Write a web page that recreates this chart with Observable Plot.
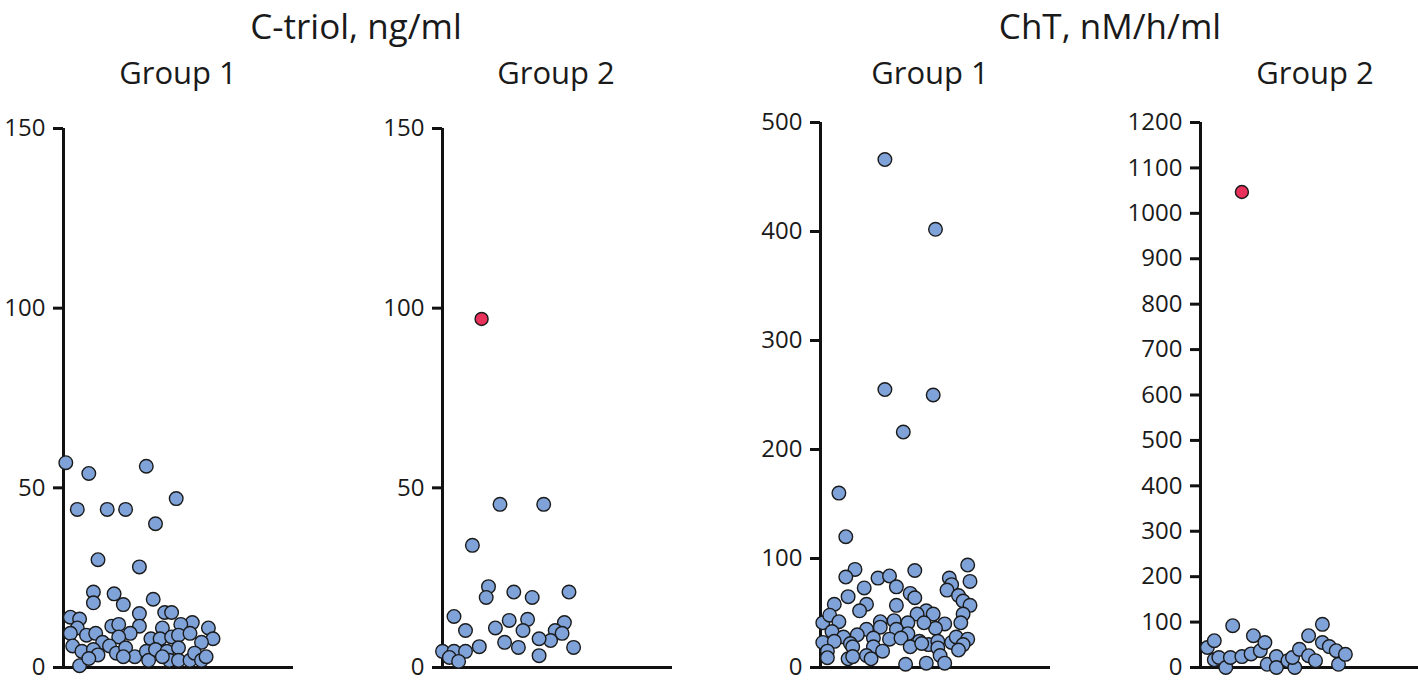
<!DOCTYPE html>
<html>
<head>
<meta charset="utf-8">
<script src="https://cdn.jsdelivr.net/npm/d3@7"></script>
<script src="https://cdn.jsdelivr.net/npm/@observablehq/plot@0.6"></script>
<style>
  html, body { margin: 0; padding: 0; background: #fff; overflow: hidden; }
  #root { position: relative; width: 1418px; height: 680px; font-family: "Open Sans", sans-serif; color: #1a1a1a; }
  .ttl { position: absolute; text-align: center; white-space: nowrap; line-height: normal; }
  .panel { position: absolute; top: 100px; }
</style>
</head>
<body>
<div id="root"></div>
<script>
// ---------------- data ----------------
const measures = ["C-triol, ng/ml", "ChT, nM/h/ml"];
const groups = ["Group 1", "Group 2"];

const triolTicks = [0, 50, 100, 150];
const chtG1Ticks = [0, 100, 200, 300, 400, 500];
const chtG2Ticks = [0, 100, 200, 300, 400, 500, 600, 700, 800, 900, 1000, 1100, 1200];

// C-triol, Group 1
const triolG1Values = [57,54,56,44,44,44,47,40,30,28,21,18,20.5,17.5,19,
  14,13.5,15,15.3,15.3,12.5,11,12,11.5,12,11.5,11,11,
  9.5,9,9.5,9.5,8.5,8,8,8.5,9,9.5,8,7,7,
  6,4.5,5,3.5,6,4,5.5,3,3,4.5,2,5,4.5,2,5.5,2,2,4,2,3,0.5,2.5,3];
const triolG1Jitter = [0.01,0.11,0.36,0.06,0.19,0.27,0.49,0.40,0.15,0.33,0.13,0.13,0.22,0.26,0.39,
  0.03,0.07,0.33,0.44,0.47,0.56,0.63,0.51,0.21,0.24,0.33,0.43,0.06,
  0.03,0.10,0.14,0.29,0.24,0.38,0.42,0.47,0.50,0.55,0.65,0.60,0.17,
  0.04,0.08,0.13,0.15,0.20,0.23,0.27,0.31,0.26,0.36,0.37,0.40,0.45,0.46,0.50,0.50,0.55,0.57,0.60,0.62,0.07,0.11,0.43];

// C-triol, Group 2
const triolG2Values = [45.4,45.4,34,22.5,19.5,21,19.5,21,14.2,10.3,11,13.1,13.4,10.3,12.5,10.3,9.5,
  7.5,8,7,5.6,5.8,5.6,3.3,4.5,4.5,4.5,2.8,1.7];
const triolG2Jitter = [0.25,0.44,0.13,0.20,0.19,0.31,0.39,0.55,0.05,0.10,0.23,0.29,0.37,0.35,0.53,0.49,0.52,
  0.47,0.42,0.27,0.33,0.16,0.57,0.42,0.00,0.05,0.10,0.03,0.07];
const triolG2OutlierValues = [97];
const triolG2OutlierJitter = [0.17];

// ChT, Group 1
const chtG1Values = [466,402,255,250,216,160,120,
  90,83,82,84,89,94,74,73,68,64,82,76,79,71,66,61,57,58,65,58,52,57,49,52,49,49,
  41,48,42,41,40,36,41,41,43,42,37,35,35,31,33,30,28,27,26,27,24,21,24,23,28,26,21,
  23,24,22,19,19,15,19,22,18,16,15,9,8,10,11,8,3,4,11,4];
const chtG1Jitter = [0.28,0.50,0.28,0.49,0.36,0.08,0.11,
  0.15,0.11,0.25,0.30,0.41,0.64,0.33,0.19,0.39,0.41,0.56,0.57,0.65,0.55,0.60,0.62,0.65,0.06,0.12,0.20,0.17,0.33,0.62,0.46,0.42,0.49,
  0.01,0.04,0.08,0.61,0.54,0.50,0.45,0.38,0.32,0.26,0.26,0.20,0.33,0.38,0.05,0.16,0.10,0.23,0.30,0.35,0.43,0.47,0.51,0.57,0.59,0.64,0.62,
  0.01,0.06,0.13,0.14,0.23,0.27,0.39,0.44,0.51,0.60,0.03,0.03,0.12,0.14,0.20,0.22,0.37,0.46,0.52,0.54];

// ChT, Group 2
const chtG2Values = [44,59,17,22,0,22,92,24,30,70,37,55,7,24,0,15,0,22,40,26,70,15,95,55,46,37,7,29];
const chtG2Jitter = [0.03,0.06,0.06,0.08,0.11,0.13,0.14,0.18,0.22,0.23,0.26,0.28,0.29,0.33,0.33,0.38,0.41,0.40,0.43,0.47,0.47,0.50,0.53,0.53,0.56,0.59,0.60,0.63];
const chtG2OutlierValues = [1047];
const chtG2OutlierJitter = [0.18];

// ---------------- layout ----------------
const FONT = "Open Sans, sans-serif";
const BLUE = "#7fa2d8";
const RED = "#e8315b";
const INK = "#111";
const AXIS_W = 230;     // length of the x baseline
const ML = 72, MR = 4;
const SVG_H = 580, MB = 13;

const zip = (vals, jit) => vals.map((v, i) => ({value: v, jitter: jit[i]}));

const panels = [
  {axisX: 63,   top: 150,  ticks: triolTicks, mt: 28, pts: zip(triolG1Values, triolG1Jitter), out: []},
  {axisX: 442,  top: 150,  ticks: triolTicks, mt: 28, pts: zip(triolG2Values, triolG2Jitter), out: zip(triolG2OutlierValues, triolG2OutlierJitter)},
  {axisX: 820,  top: 500,  ticks: chtG1Ticks, mt: 22, pts: zip(chtG1Values, chtG1Jitter), out: []},
  {axisX: 1200, top: 1200, ticks: chtG2Ticks, mt: 22, pts: zip(chtG2Values, chtG2Jitter), out: zip(chtG2OutlierValues, chtG2OutlierJitter)}
];

const root = document.getElementById("root");

panels.forEach(p => {
  const chart = Plot.plot({
    width: ML + AXIS_W + MR,
    height: SVG_H,
    marginLeft: ML, marginRight: MR, marginTop: p.mt, marginBottom: MB,
    style: {background: "none", fontFamily: FONT, overflow: "visible"},
    x: {domain: [0, 1], axis: null},
    y: {domain: [0, p.top], axis: null},
    marks: [
      Plot.axisY({ticks: p.ticks, tickSize: 10, tickPadding: 8, strokeWidth: 3,
        stroke: INK, fill: "#1a1a1a", fontSize: 24, label: null, tickFormat: d => String(d)}),
      Plot.ruleX([0], {y1: 0, y2: p.top, stroke: INK, strokeWidth: 3}),
      Plot.ruleY([0], {x1: 0, x2: 1, stroke: INK, strokeWidth: 3}),
      Plot.dot(p.pts, {x: "jitter", y: "value", r: 6.8, fill: BLUE, stroke: "#1a1a1a", strokeWidth: 1.4}),
      Plot.dot(p.out, {x: "jitter", y: "value", r: 6.5, fill: RED, stroke: "#1a1a1a", strokeWidth: 1.4})
    ]
  });
  chart.classList.add("panel");
  chart.style.left = (p.axisX - ML) + "px";
  root.appendChild(chart);
});

// titles (baseline placed from the Open Sans ascent of 1.069em)
function addTitle(text, cx, baseline, size) {
  const d = document.createElement("div");
  d.className = "ttl";
  d.textContent = text;
  d.style.left = (cx - 250) + "px";
  d.style.width = "500px";
  d.style.top = Math.max(1, baseline - 1.069 * size) + "px";
  d.style.fontSize = size + "px";
  root.appendChild(d);
}
addTitle(measures[0], 356, 39, 35);
addTitle(measures[1], 1110, 39, 35);
addTitle(groups[0], 178, 84, 31);
addTitle(groups[1], 556, 84, 31);
addTitle(groups[0], 930, 84, 31);
addTitle(groups[1], 1315, 84, 31);
</script>
</body>
</html>
